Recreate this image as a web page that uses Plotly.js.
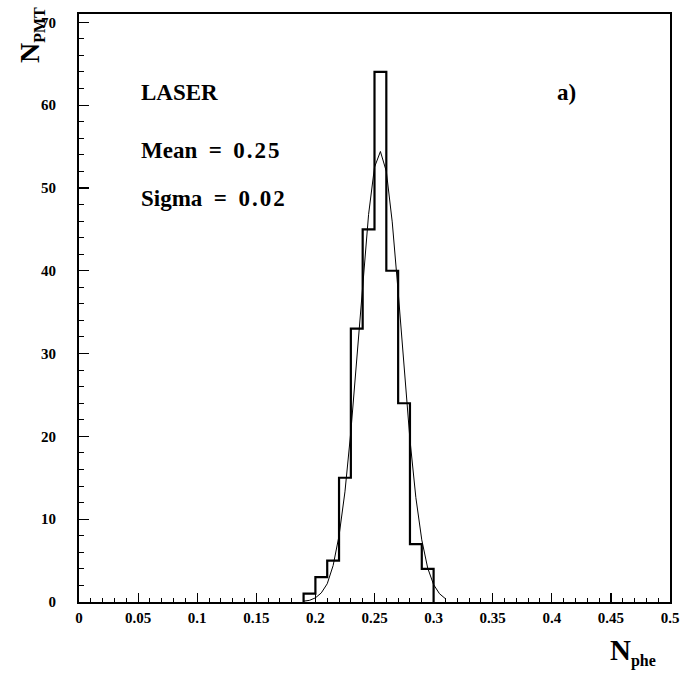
<!DOCTYPE html>
<html>
<head>
<meta charset="utf-8">
<script src="https://cdn.plot.ly/plotly-3.0.1.min.js"></script>
<style>
  html, body { margin: 0; padding: 0; background: #ffffff; }
  #chart { width: 681px; height: 675px; }
</style>
</head>
<body>
<div id="chart"></div>
<script>
// ---- data ----
const binEdges = [0.19, 0.20, 0.21, 0.22, 0.23, 0.24, 0.25, 0.26, 0.27, 0.28, 0.29, 0.30];
const binCounts = [1, 3, 5, 15, 33, 45, 64, 40, 24, 7, 4];

const fitX = [0.19, 0.195, 0.20, 0.205, 0.21, 0.215, 0.22, 0.225, 0.23, 0.235, 0.24, 0.245, 0.25,
              0.255, 0.26, 0.265, 0.27, 0.275, 0.28, 0.285, 0.29, 0.295, 0.30, 0.305, 0.31];
const fitY = [0.1, 0.2, 0.5, 1.1, 2.2, 4.4, 8.0, 13.3, 20.6, 29.3, 38.5, 46.8, 52.5,
              54.4, 52.0, 45.9, 37.5, 28.2, 19.6, 12.6, 7.5, 4.1, 2.1, 1.0, 0.4];

const xTickVals = [0, 0.05, 0.1, 0.15, 0.2, 0.25, 0.3, 0.35, 0.4, 0.45, 0.5];
const xTickText = ["0", "0.05", "0.1", "0.15", "0.2", "0.25", "0.3", "0.35", "0.4", "0.45", "0.5"];
const yTickVals = [0, 10, 20, 30, 40, 50, 60, 70];
const yTickText = ["0", "10", "20", "30", "40", "50", "60", "70"];

const infoLabel = "LASER";
const meanLabel = "Mean";
const meanValue = "0.25";
const sigmaLabel = "Sigma";
const sigmaValue = "0.02";
const panelLabel = "a)";

// ---- build step outline of the histogram ----
const stepX = [binEdges[0]];
const stepY = [0];
for (let i = 0; i < binCounts.length; i++) { stepX.push(binEdges[i]); stepY.push(binCounts[i]); }
stepX.push(binEdges[binEdges.length - 1]); stepY.push(0);

const serif = "Liberation Serif, Times New Roman, serif";

const L = 79, R = 670, T = 14, B = 602, W = 681, H = 675;
function px(xp) { return (xp - L) / (R - L); }
function py(yp) { return (B - yp) / (B - T); }

function statText(name, value) {
  return name + "&nbsp;&nbsp;=&nbsp;&nbsp;<span style='letter-spacing:2px'>" + value + "</span>";
}

const traces = [
  {
    x: stepX, y: stepY, type: "scatter", mode: "lines",
    line: { color: "#000", width: 2.2, shape: "hv" },
    hoverinfo: "skip", showlegend: false
  },
  {
    x: fitX, y: fitY, type: "scatter", mode: "lines",
    line: { color: "#000", width: 1 },
    hoverinfo: "skip", showlegend: false
  }
];

const layout = {
  width: W, height: H,
  margin: { l: L, r: W - R, t: T, b: H - B },
  paper_bgcolor: "#fff", plot_bgcolor: "#fff",
  showlegend: false,
  font: { family: serif, size: 15, color: "#000", weight: 700 },
  xaxis: {
    range: [0, 0.5],
    tickmode: "array", tickvals: xTickVals, ticktext: xTickText,
    ticks: "inside", ticklen: 9, tickwidth: 1.2, tickcolor: "#000",
    minor: { dtick: 0.01, tick0: 0, ticks: "inside", ticklen: 4, tickwidth: 1, tickcolor: "#000", showgrid: false },
    showline: true, linecolor: "#000", linewidth: 2, mirror: true,
    showgrid: false, zeroline: false,
    tickfont: { family: serif, size: 15, color: "#000", weight: 700 },
    ticklabelstandoff: 1
  },
  yaxis: {
    range: [0, 71],
    tickmode: "array", tickvals: yTickVals, ticktext: yTickText,
    ticks: "inside", ticklen: 10, tickwidth: 1.2, tickcolor: "#000",
    minor: { dtick: 2, tick0: 0, ticks: "inside", ticklen: 5, tickwidth: 1, tickcolor: "#000", showgrid: false },
    showline: true, linecolor: "#000", linewidth: 2, mirror: true,
    showgrid: false, zeroline: false,
    tickfont: { family: serif, size: 15, color: "#000", weight: 700 },
    ticklabelstandoff: 18
  },
  annotations: [
    { text: "N<sub><span style='font-size:16px'>PMT</span></sub>", xref: "paper", yref: "paper", x: px(31), y: py(35),
      textangle: -90, showarrow: false, xanchor: "center", yanchor: "middle",
      font: { family: serif, size: 28, color: "#000", weight: "bold" } },
    { text: "N<sub><span style='font-size:16px'>phe</span></sub>", xref: "paper", yref: "paper", x: px(633), y: py(652),
      showarrow: false, xanchor: "center", yanchor: "middle",
      font: { family: serif, size: 29, color: "#000", weight: "bold" } },
    { text: infoLabel, xref: "paper", yref: "paper", x: px(139), y: py(93),
      showarrow: false, xanchor: "left", yanchor: "middle",
      font: { family: serif, size: 23, color: "#000", weight: "bold" } },
    { text: statText(meanLabel, meanValue), xref: "paper", yref: "paper", x: px(139), y: py(150),
      showarrow: false, xanchor: "left", yanchor: "middle",
      font: { family: serif, size: 23, color: "#000", weight: "bold" } },
    { text: statText(sigmaLabel, sigmaValue), xref: "paper", yref: "paper", x: px(139), y: py(198),
      showarrow: false, xanchor: "left", yanchor: "middle",
      font: { family: serif, size: 23, color: "#000", weight: "bold" } },
    { text: panelLabel, xref: "paper", yref: "paper", x: px(555), y: py(93),
      showarrow: false, xanchor: "left", yanchor: "middle",
      font: { family: serif, size: 23, color: "#000", weight: "bold" } }
  ]
};

Plotly.newPlot("chart", traces, layout, { displayModeBar: false, staticPlot: true });
</script>
</body>
</html>
